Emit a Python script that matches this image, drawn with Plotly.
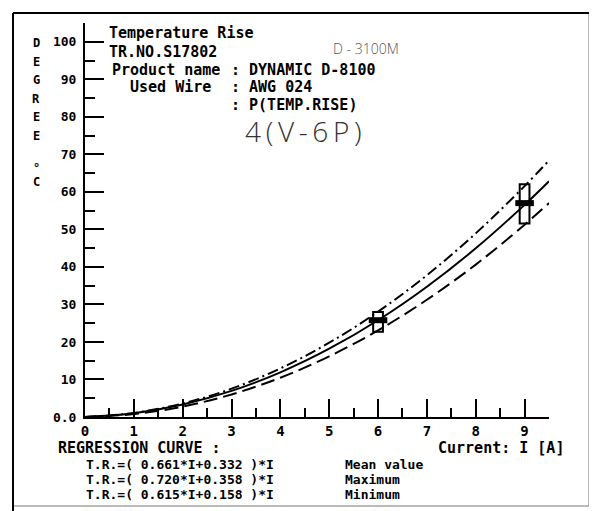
import plotly.graph_objects as go

# regression curves (deg C vs current A)
current = [0, 1, 2, 3, 4, 5, 6, 7, 8, 9, 9.5]
mean_rise = [0, 0.99, 3.31, 6.95, 11.90, 18.19, 25.79, 34.71, 44.96, 56.53, 62.81]
max_rise = [0, 1.08, 3.60, 7.55, 12.95, 19.79, 28.07, 37.79, 48.94, 61.54, 68.38]
min_rise = [0, 0.77, 2.78, 6.01, 10.47, 16.17, 23.09, 31.24, 40.62, 51.24, 57.01]

# measured spread at the test currents
meas_current = [6, 9]
meas_low = [22.7, 51.6]
meas_high = [28.0, 62.0]
meas_avg = [25.8, 57.0]

x_major = [0, 1, 2, 3, 4, 5, 6, 7, 8, 9]
x_labels = ["0", "1", "2", "3", "4", "5", "6", "7", "8", "9"]
x_minor = [0.5, 1.5, 2.5, 3.5, 4.5, 5.5, 6.5, 7.5, 8.5, 9.5]
y_major = [0, 10, 20, 30, 40, 50, 60, 70, 80, 90, 100]
y_labels = ["0.0", "10", "20", "30", "40", "50", "60", "70", "80", "90", "100"]
y_minor = [5, 15, 25, 35, 45, 55, 65, 75, 85, 95, 105]

formulas = ["T.R.=( 0.661*I+0.332 )*I",
            "T.R.=( 0.720*I+0.358 )*I",
            "T.R.=( 0.615*I+0.158 )*I"]
formula_names = ["Mean value", "Maximum", "Minimum"]

MONO = "DejaVu Sans Mono"

# the page body adds an 8px margin, so the figure is drawn 8px smaller/shifted
OFF = 8
W, H = 597 - OFF, 511 - OFF
# plot area in screen pixels: x 85..549, y 23..417
L, R, T, B = 85, 549, 23, 417


def px(x):
    return (x - L) / (R - L)


def py(y):
    return (B - y) / (B - T)


fig = go.Figure()

fig.add_trace(go.Scatter(x=current, y=max_rise, mode="lines", line_shape="spline",
                         line=dict(color="black", width=2, dash="11px,4px,2px,4px"),
                         hoverinfo="skip", showlegend=False))
fig.add_trace(go.Scatter(x=current, y=mean_rise, mode="lines", line_shape="spline",
                         line=dict(color="black", width=2),
                         hoverinfo="skip", showlegend=False))
fig.add_trace(go.Scatter(x=current, y=min_rise, mode="lines", line_shape="spline",
                         line=dict(color="black", width=2, dash="14px,6px"),
                         hoverinfo="skip", showlegend=False))

# measurement boxes
for i, lo, hi, av in zip(meas_current, meas_low, meas_high, meas_avg):
    fig.add_shape(type="rect", x0=i - 0.1, x1=i + 0.1, y0=lo, y1=hi,
                  line=dict(color="black", width=2))
    fig.add_shape(type="line", x0=i - 0.19, x1=i + 0.19, y0=av, y1=av,
                  line=dict(color="black", width=6))

# outer frame of the sheet
fig.add_shape(type="rect", xref="paper", yref="paper", x0=px(13), x1=px(589),
              y0=py(506), y1=py(13), line=dict(color="#777777", width=1))
fig.add_shape(type="line", xref="paper", yref="paper", x0=px(13), x1=px(13),
              y0=py(13), y1=py(511), line=dict(color="black", width=2))
fig.add_shape(type="line", xref="paper", yref="paper", x0=px(13), x1=px(589),
              y0=py(13), y1=py(13), line=dict(color="black", width=2))


def label(text, x, y, size=15, anchor="left", family=MONO, color="black", weight="bold"):
    fig.add_annotation(text=text, x=px(x), y=py(y), xref="paper", yref="paper",
                       xanchor=anchor, yanchor="middle", showarrow=False,
                       font=dict(family=family, size=size, color=color, weight=weight))


# vertical axis caption
for ch, yy in zip("DEGREE", [43, 62, 80, 99, 117, 136]):
    label(ch, 36, yy, size=12, anchor="center")
label("°", 36, 168, size=12, anchor="center")
label("C", 36, 182, size=12, anchor="center")

# header block
label("Temperature Rise", 107, 33)
label("TR.NO.S17802", 107, 52)
label("Product name", 110, 70)
label("Used Wire", 128, 87)
label(": DYNAMIC D-8100", 229, 70)
label(": AWG 024", 229, 87)
label(": P(TEMP.RISE)", 229, 105)
label("D - 3100M", 331, 48, size=14, family="Open Sans", color="#555555", weight=300)
label("4\u2009(\u2009V\u2009-\u20096\u2009P\u2009)", 243, 131, size=28,
      family="Open Sans", color="#333333", weight=300)

# footer
label("REGRESSION CURVE :", 56, 448)
label("Current: I [A]", 566, 448, anchor="right")
for k, (f, n) in enumerate(zip(formulas, formula_names)):
    label(f, 84, 465 + 14.5 * k, size=13)
    label(n, 343, 465 + 14.5 * k, size=13)

fig.update_layout(
    width=W, height=H,
    margin=dict(l=L - OFF, r=W - (R - OFF), t=T - OFF, b=H - (B - OFF)),
    plot_bgcolor="white", paper_bgcolor="white",
    showlegend=False,
    xaxis=dict(range=[0, 9.5], showgrid=False, zeroline=False,
               showline=True, linecolor="black", linewidth=2,
               tickmode="array", tickvals=x_major, ticktext=x_labels,
               ticks="inside", ticklen=18, tickwidth=2, tickcolor="black",
               tickfont=dict(family=MONO, size=14, color="black", weight="bold"),
               minor=dict(tickmode="array", tickvals=x_minor, ticks="inside",
                          ticklen=9, tickwidth=2, tickcolor="black")),
    yaxis=dict(range=[0, 105], showgrid=False, zeroline=False,
               showline=True, linecolor="black", linewidth=2,
               tickmode="array", tickvals=y_major, ticktext=y_labels,
               ticks="inside", ticklen=19, tickwidth=2, tickcolor="black",
               ticklabelstandoff=4,
               tickfont=dict(family=MONO, size=13, color="black", weight="bold"),
               minor=dict(tickmode="array", tickvals=y_minor,
                          ticks="inside", ticklen=10, tickwidth=2, tickcolor="black")),
)

fig.write_html("out.html")
